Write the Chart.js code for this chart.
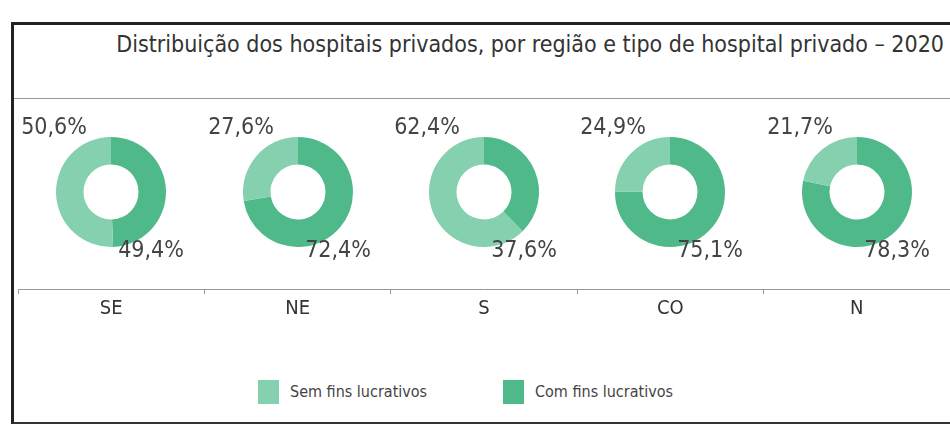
<!DOCTYPE html>
<html>
<head>
<meta charset="utf-8">
<script src="https://cdn.jsdelivr.net/npm/chart.js@4/dist/chart.umd.min.js"></script>
<style>
  body { margin:0; width:950px; height:426px; overflow:hidden; background:#fff; position:relative;
         font-family:"Liberation Sans Narrow","DejaVu Sans Condensed",sans-serif; color:#333; }
  #frame { position:absolute; left:11px; top:22px; width:960px; height:397px;
           border-left:3px solid #222; border-top:3px solid #222; border-bottom:2px solid #333; }
  #title { position:absolute; right:6px; top:31px; font-size:23px; color:#333; white-space:nowrap; }
  #rule { position:absolute; left:14px; right:0; top:98px; border-top:1px solid #999; }
  #axis { position:absolute; left:18px; top:259px; }
  .donut { position:absolute; }
  .leg { position:absolute; top:380px; font-size:16px; color:#444; white-space:nowrap; }
  .leg span { display:inline-block; width:21px; height:24px; vertical-align:middle; margin-right:11px; }
</style>
</head>
<body>
<div id="frame"></div>
<div id="title">Distribuição dos hospitais privados, por região e tipo de hospital privado – 2020</div>
<div id="rule"></div>
<canvas id="axis" width="932" height="60"></canvas>
<div id="donuts"></div>
<div id="legend"></div>
<script>
// dados
var regions = ['SE', 'NE', 'S', 'CO', 'N'];
var semFins = [50.6, 27.6, 62.4, 24.9, 21.7];
var comFins = [49.4, 72.4, 37.6, 75.1, 78.3];
var seriesNames = ['Sem fins lucrativos', 'Com fins lucrativos'];

var lightGreen = '#85d0ae';
var darkGreen = '#4fb98a';
var fontFam = '"Liberation Sans Narrow","DejaVu Sans Condensed",sans-serif';
Chart.defaults.font.family = fontFam;

function pct(v) { return v.toFixed(1).replace('.', ',') + '%'; }

// eixo com as regioes
var axisChart = new Chart(document.getElementById('axis'), {
  type: 'bar',
  data: { labels: regions, datasets: [] },
  options: {
    responsive: false,
    animation: false,
    plugins: { legend: { display: false }, tooltip: { enabled: false } },
    scales: {
      x: {
        grid: { drawOnChartArea: false, offset: true, tickLength: 5, color: '#999' },
        border: { color: '#999' },
        ticks: { font: { size: 20 }, color: '#333' }
      },
      y: { display: false }
    }
  }
});

// rotulos de percentagem
var pctLabels = {
  id: 'pctLabels',
  afterDatasetsDraw: function(chart) {
    var arc = chart.getDatasetMeta(0).data[0];
    var ds = chart.data.datasets[0].data;
    var c = chart.ctx;
    c.save();
    c.font = '23px ' + fontFam;
    c.fillStyle = '#444';
    c.textAlign = 'center';
    c.textBaseline = 'middle';
    c.fillText(pct(ds[1]), arc.x - 57, arc.y - 64);
    c.fillText(pct(ds[0]), arc.x + 40, arc.y + 59);
    c.restore();
  }
};

var xs = axisChart.scales.x;
var holder = document.getElementById('donuts');
regions.forEach(function(r, i) {
  var cv = document.createElement('canvas');
  cv.width = 200; cv.height = 180;
  cv.className = 'donut';
  var cx = 18 + xs.getPixelForValue(i);
  cv.style.left = (cx - 100) + 'px';
  cv.style.top = (192 - 90) + 'px';
  holder.appendChild(cv);
  new Chart(cv, {
    type: 'doughnut',
    data: {
      labels: [seriesNames[1], seriesNames[0]],
      datasets: [{
        data: [comFins[i], semFins[i]],
        backgroundColor: [darkGreen, lightGreen],
        borderWidth: 0
      }]
    },
    options: {
      responsive: false,
      animation: false,
      cutout: '50%',
      layout: { padding: { left: 45, right: 45, top: 35, bottom: 35 } },
      plugins: { legend: { display: false }, tooltip: { enabled: false } }
    },
    plugins: [pctLabels]
  });
});

// legenda
var legend = document.getElementById('legend');
var legX = [258, 503];
var legCol = [lightGreen, darkGreen];
seriesNames.forEach(function(n, i) {
  var d = document.createElement('div');
  d.className = 'leg';
  d.style.left = legX[i] + 'px';
  d.innerHTML = '<span style="background:' + legCol[i] + '"></span>' + n;
  legend.appendChild(d);
});
</script>
</body>
</html>
